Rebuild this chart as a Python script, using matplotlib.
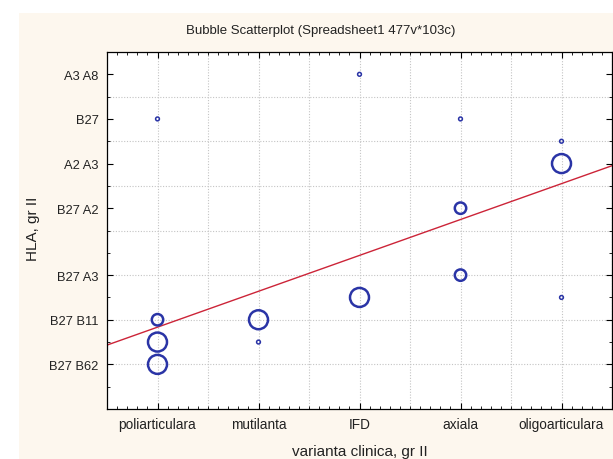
#!/usr/bin/env python3
import numpy as np
import matplotlib
matplotlib.use("Agg")
import matplotlib.pyplot as plt
from matplotlib.ticker import MultipleLocator
from matplotlib.patches import Rectangle

plt.rcParams['font.family'] = ['Liberation Sans', 'DejaVu Sans']

# categories on x (varianta clinica) and HLA codes on y
categories = ['poliarticulara', 'mutilanta', 'IFD', 'axiala', 'oligoarticulara']
hla_labels = ['B27 B62', 'B27 B11', 'B27 A3', 'B27 A2', 'A2 A3', 'B27', 'A3 A8']
hla_values = [1, 2, 3, 4.5, 5.5, 6.5, 7.5]

# bubbles: category index (1-based), hla value, count (bubble size)
bub_x = [1, 1, 1, 1, 2, 2, 3, 3, 4, 4, 4, 5, 5, 5]
bub_y = [1, 1.5, 2, 6.5, 2, 1.5, 2.5, 7.5, 4.5, 3, 6.5, 6, 5.5, 2.5]
bub_n = [5, 5, 3, 1, 5, 1, 5, 1, 3, 3, 1, 1, 5, 1]

# fitted line
fit_intercept = 1.03
fit_slope = 0.804

fig = plt.figure(figsize=(6.13, 4.6), dpi=100)
fig.patch.set_facecolor('white')
fig.patches.append(Rectangle((19/613, 0), 1, 1 - 14/460, transform=fig.transFigure,
                             facecolor='#fdf7ee', edgecolor='none', zorder=-10))

ax = fig.add_axes([107/613, 1 - 410/460, 505/613, 357/460])
ax.set_facecolor('white')
ax.set_xlim(0.5, 5.5)
ax.set_ylim(0, 8)

# grid
for gx in np.arange(1, 5.51, 0.5):
    ax.axvline(gx, color='#c4c4c4', lw=0.8, ls=(0, (1, 1.5)), zorder=0)
for gy in range(1, 8):
    ax.axhline(gy, color='#c4c4c4', lw=0.8, ls=(0, (1, 1.5)), zorder=0)

# regression line
xs = np.array([0.5, 5.5])
ax.plot(xs, fit_intercept + fit_slope * xs, color='#cc2438', lw=1.0, zorder=2)

# bubbles
n = np.array(bub_n)
radius_pt = 1.9 * n * 0.72
sizes = (2 * radius_pt) ** 2
lws = np.where(n > 1, 1.8, 1.1)
ax.scatter(bub_x, bub_y, s=sizes, facecolors='none', edgecolors='#2a34a6',
           linewidths=lws, zorder=3)

ax.set_xticks(range(1, len(categories) + 1))
ax.set_xticklabels(categories, fontsize=9.8)
ax.set_yticks(hla_values)
ax.set_yticklabels(hla_labels, fontsize=9.3)
ax.xaxis.set_minor_locator(MultipleLocator(0.1))
ax.yaxis.set_minor_locator(MultipleLocator(0.5))
ax.tick_params(which='both', direction='in', top=True, right=True, colors='black',
               labelcolor='#222222')
ax.tick_params(which='major', length=4, width=0.8, pad=6)
ax.tick_params(which='minor', length=2, width=0.6)
for sp in ax.spines.values():
    sp.set_linewidth(0.9)

ax.set_xlabel('varianta clinica, gr II', fontsize=11, color='#222222', labelpad=9)
fig.text(33/613, 1 - 229/460, 'HLA, gr II', rotation=90, fontsize=11,
         color='#222222', ha='center', va='center')
fig.text(321/613, 1 - 31/460, 'Bubble Scatterplot (Spreadsheet1 477v*103c)',
         fontsize=9.5, color='#222222', ha='center', va='center')

fig.savefig('out.png', dpi=100)
